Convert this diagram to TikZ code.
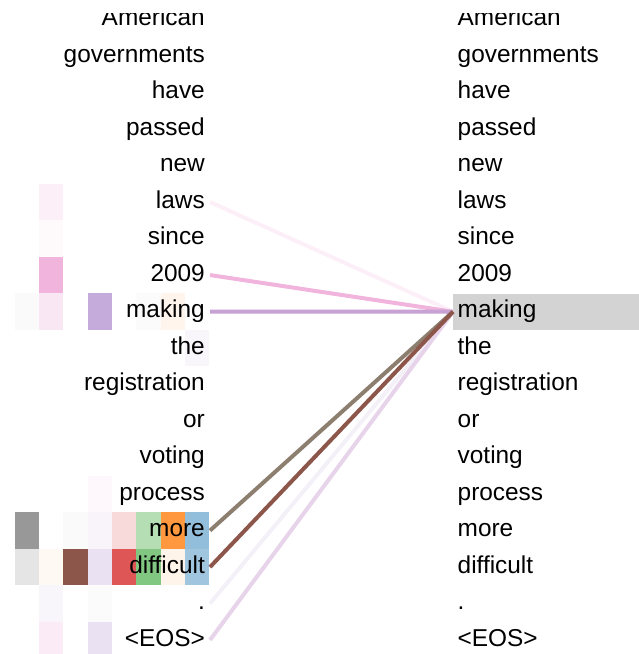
\documentclass[tikz,border=0pt]{standalone}
\usepackage{fontspec}
\setmainfont{Liberation Sans}
\definecolor{tgray}{HTML}{7F7F7F}
\definecolor{tpink}{HTML}{E377C2}
\definecolor{tbrown}{HTML}{8C564B}
\definecolor{tpurple}{HTML}{9467BD}
\definecolor{tred}{HTML}{D62728}
\definecolor{tgreen}{HTML}{2CA02C}
\definecolor{torange}{HTML}{FF7F0E}
\definecolor{tblue}{HTML}{1F77B4}
\definecolor{hl}{HTML}{D3D3D3}
\definecolor{lmaking}{HTML}{C8A2D4}
\definecolor{lmore}{HTML}{8C7F6F}
\definecolor{leos}{HTML}{E7D3EA}
\begin{document}
\begin{tikzpicture}[x=1pt,y=-1pt,
  word/.style={inner sep=0pt,font=\fontsize{24.4}{29}\selectfont},
  lword/.style={word,anchor=base east},
  rword/.style={word,anchor=base west},
  link/.style={line width=4pt}]
\useasboundingbox (0,0) rectangle (639,654);
\begin{scope}
\clip (0,13) rectangle (639,654);
% attention cells
\foreach \r/\c/\col in {
  5/1/tpink!12, 6/1/tpink!4, 7/1/tpink!55,
  8/0/tgray!4, 8/1/tpink!18, 8/3/tpurple!55, 8/5/tgray!3, 8/6/torange!8,
  9/7/tpurple!6, 13/3/tpink!5,
  14/0/tgray!80, 14/2/tgray!4, 14/3/tpurple!7, 14/4/tred!17, 14/5/tgreen!35, 14/6/torange!80, 14/7/tblue!48,
  15/0/tgray!20, 15/1/torange!5, 15/2/tbrown, 15/3/tpurple!20, 15/4/tred!78, 15/5/tgreen!60, 15/6/torange!9, 15/7/tblue!43,
  16/1/tpurple!6, 16/3/tgray!3,
  17/1/tpink!15, 17/3/tpurple!20}
  \fill[\col] (14.7+24.33*\c, 1.3+36.5*\r) rectangle ++(24.33,36.5);
% highlighted target word
\node[fill=hl, inner sep=0pt, minimum width=186pt, minimum height=36.5pt, anchor=north west] (HL) at (453,293.3) {};
% words
\foreach \i/\w in {0/American,1/governments,2/have,3/passed,4/new,5/laws,6/since,7/2009,8/making,9/the,10/registration,11/or,12/voting,13/process,14/more,15/difficult,16/.,17/<EOS>} {
  \node[lword] (L\i) at (205, 25.5+36.5*\i) {\w};
  \node[rword] (R\i) at (457.5, 25.5+36.5*\i) {\w};
  \coordinate (s\i) at (210, 19.55+36.5*\i);
}
% links
\draw[link, tpink!12] (s5) -- (HL.west);
\draw[link, tpink!55] (s7) -- (HL.west);
\draw[link, lmaking] (s8) -- (HL.west);
\draw[link, tpurple!10] (s16) -- (HL.west);
\draw[link, leos] (s17) -- (HL.west);
\draw[link, lmore] (s14) -- (HL.west);
\draw[link, tbrown] (s15) -- (HL.west);
\end{scope}
\end{tikzpicture}
\end{document}
